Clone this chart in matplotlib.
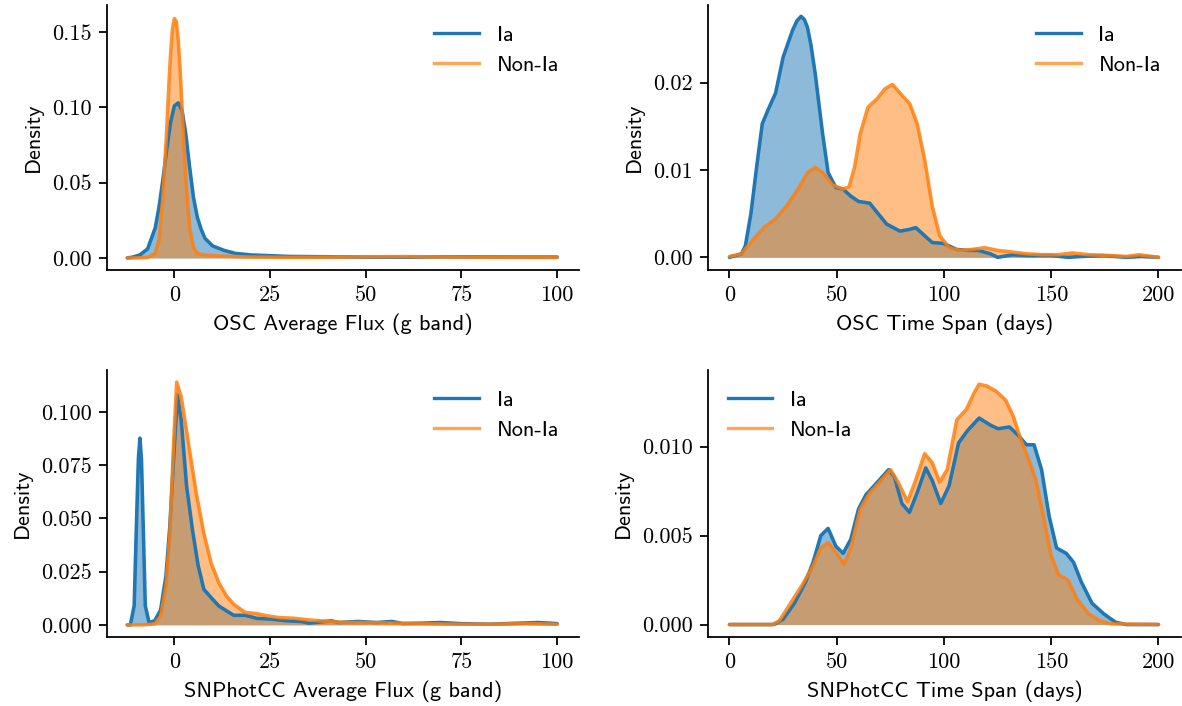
import matplotlib

matplotlib.use("Agg")
import matplotlib.pyplot as plt
from matplotlib.lines import Line2D

plt.rcParams["font.family"] = "cmss10"
plt.rcParams["axes.formatter.use_mathtext"] = True
plt.rcParams["font.size"] = 10

BLUE = "#1f77b4"
ORANGE = "#ff7f0e"
LABELS = ["Ia", "Non-Ia"]

# OSC average flux (g band)
osc_flux_x_ia = [-12.3, -11, -9, -7, -5, -4, -3, -2, -1, 0, 1, 2, 3, 4, 5, 6, 7, 8,
                 10, 13, 16, 20, 25, 30, 40, 50, 60, 70, 80, 90, 100]
osc_flux_ia = [0, 0.0005, 0.002, 0.006, 0.02, 0.034, 0.052, 0.072, 0.09, 0.101,
               0.103, 0.098, 0.082, 0.06, 0.04, 0.027, 0.019, 0.013, 0.008, 0.005,
               0.003, 0.002, 0.0015, 0.001, 0.0008, 0.0006, 0.0005, 0.0008, 0.0007,
               0.0006, 0.0006]
osc_flux_x_non = [-12.3, -10, -7, -5, -4, -3, -2.5, -2, -1.5, -1, -0.5, 0, 0.5, 1,
                  1.5, 2, 2.5, 3, 4, 5, 6, 8, 10, 15, 20, 30, 40, 50, 60, 70, 80,
                  90, 100]
osc_flux_non = [0, 0, 0.0003, 0.003, 0.012, 0.04, 0.062, 0.085, 0.112, 0.135,
                0.152, 0.159, 0.157, 0.145, 0.125, 0.1, 0.075, 0.052, 0.02, 0.007,
                0.003, 0.002, 0.0015, 0.001, 0.0006, 0.0004, 0.0005, 0.0008,
                0.0009, 0.0007, 0.0005, 0.0004, 0.0003]

# OSC time span (days)
osc_span_x_ia = [0, 5.6, 7.4, 10, 12.7, 15.3, 18, 21.5, 25, 29.4, 31.5, 33.4, 35,
                 36.4, 38, 40, 43.4, 46, 49.6, 53, 56.6, 60.2, 65.4, 69, 73.3, 79.5,
                 83.9, 86.9, 90, 94.5, 99.7, 106, 111, 116, 121.7, 125, 132, 139,
                 150, 158, 164, 174, 185, 192, 200]
osc_span_ia = [0, 0.0004, 0.0013, 0.005, 0.0104, 0.0153, 0.0169, 0.0188, 0.0229,
               0.026, 0.0271, 0.0276, 0.0272, 0.0263, 0.0243, 0.021, 0.0142,
               0.0097, 0.008, 0.0078, 0.007, 0.0064, 0.0062, 0.0051, 0.0038,
               0.003, 0.0032, 0.0034, 0.0027, 0.0017, 0.0016, 0.0009, 0.0008,
               0.0008, 0.0004, 0.0, 0.0003, 0.0002, 0.0002, 0.0, 0.0001, 0.0002,
               0.0, 0.0001, 0]
osc_span_x_non = [0, 5.6, 11, 16, 21.5, 26.7, 32, 36.4, 40, 43.4, 48, 53, 55.8,
                  58.4, 61, 64.6, 69, 72.5, 76, 79.5, 84, 87.5, 91, 94.5, 98, 102.4,
                  107.6, 113, 119, 125, 132, 139, 146, 153, 160, 167.5, 178, 185,
                  191, 200]
osc_span_non = [0.0001, 0.0004, 0.002, 0.0034, 0.0044, 0.0059, 0.0078, 0.0097,
                0.0103, 0.0097, 0.0083, 0.0078, 0.0081, 0.0104, 0.0142, 0.0172,
                0.0182, 0.0193, 0.0198, 0.0188, 0.0176, 0.0153, 0.0112, 0.0059,
                0.0025, 0.0011, 0.0008, 0.0009, 0.0011, 0.0008, 0.0006, 0.0004,
                0.0003, 0.0003, 0.0005, 0.0003, 0.0002, 0.0001, 0.0003, 0]

# SNPhotCC average flux (g band)
snp_flux_x_ia = [-12.3, -11.5, -10.5, -9.8, -9.4, -9.0, -8.6, -8.25, -7.6, -6.6,
                 -5.1, -3.6, -2.2, -1.2, -0.2, 0.8, 1.8, 3.2, 4.7, 6.2, 7.7, 9.6,
                 11.6, 13.6, 15.5, 18.5, 21.4, 25.3, 29.3, 33.2, 35.2, 41, 43, 48,
                 52.8, 56.8, 59.7, 64.6, 69.5, 74.5, 82, 87, 95, 100]
snp_flux_ia = [0, 0, 0.009, 0.054, 0.078, 0.0877, 0.078, 0.054, 0.009, 0.001,
               0.002, 0.007, 0.023, 0.046, 0.078, 0.108, 0.096, 0.065, 0.045,
               0.028, 0.0167, 0.0128, 0.0089, 0.0066, 0.0045, 0.0045, 0.0031,
               0.0027, 0.0019, 0.0016, 0.0008, 0.0019, 0.0011, 0.0016, 0.0011,
               0.0016, 0.0006, 0.0008, 0.0011, 0.0006, 0.0003, 0.0006, 0.0011,
               0.0006]
snp_flux_x_non = [-12.3, -8, -5.1, -3.6, -2.2, -1.2, -0.2, 0.6, 1.8, 3.7, 5.7, 7.7,
                  9.6, 11.6, 13.6, 15.5, 18.5, 21.4, 24.4, 27.3, 31.2, 35.2, 40, 45,
                  50.9, 56.8, 62.7, 72.5, 82, 92, 100]
snp_flux_non = [0, 0, 0.0005, 0.004, 0.018, 0.042, 0.085, 0.114, 0.107, 0.085,
                0.062, 0.043, 0.029, 0.0198, 0.0136, 0.0097, 0.0058, 0.0053,
                0.0042, 0.0034, 0.0031, 0.0023, 0.0016, 0.0011, 0.0011, 0.0008,
                0.0006, 0.0003, 0.0003, 0.0006, 0.0003]

# SNPhotCC time span (days)
snp_span_x_ia = [0, 20, 21.5, 25, 30.3, 35.5, 39, 42.6, 46, 49.6, 53, 56.6, 60.2,
                 63.7, 69, 74.2, 76.9, 80.4, 83.9, 87.5, 91.5, 94.5, 98.5, 102.4,
                 106.8, 111, 116.4, 121.7, 125.2, 130.5, 134.9, 138.4, 142, 145.5,
                 149, 152.5, 157, 160.4, 164, 169, 174.5, 180, 185, 200]
snp_span_ia = [0, 0, 0.00004, 0.0003, 0.0012, 0.0024, 0.0035, 0.005, 0.0054,
               0.0044, 0.004, 0.0048, 0.0065, 0.0073, 0.008, 0.0087, 0.0083,
               0.0068, 0.0063, 0.0074, 0.0088, 0.0081, 0.0068, 0.0078, 0.0102,
               0.0109, 0.0116, 0.0112, 0.011, 0.0111, 0.0106, 0.0101, 0.0101,
               0.0087, 0.0061, 0.0043, 0.004, 0.0035, 0.0024, 0.0012, 0.0006,
               0.00013, 0, 0]
snp_span_x_non = [0, 20, 23.2, 28.5, 33.8, 39, 42.6, 46, 50.5, 53.5, 56.6, 61,
                  65.4, 70.7, 75.1, 78.6, 83, 86.5, 91, 94.5, 98, 101.5, 106,
                  110.5, 114, 116.4, 120, 124.4, 128.8, 132.3, 135.8, 139.4, 142.9,
                  146.4, 149.9, 153.4, 157.8, 162.2, 167.5, 172.7, 178, 200]
snp_span_non = [0, 0, 0.0002, 0.0012, 0.0022, 0.0033, 0.0043, 0.0046, 0.0039,
                0.0034, 0.0043, 0.0065, 0.0074, 0.0081, 0.0087, 0.008, 0.0069,
                0.008, 0.0096, 0.0091, 0.008, 0.0087, 0.0115, 0.0121, 0.013,
                0.0135, 0.0134, 0.0131, 0.0126, 0.0117, 0.0104, 0.0093, 0.0081,
                0.0061, 0.0039, 0.0028, 0.0025, 0.0014, 0.0006, 0.0002, 0.00004, 0]


def kde_panel(ax, x_ia, y_ia, x_non, y_non, xlabel, xticks, yticks, ylabels,
              xlim, ylim, legend_loc):
    for x, y, color, line_alpha in ((x_ia, y_ia, BLUE, 1.0),
                                    (x_non, y_non, ORANGE, 0.85)):
        ax.fill_between(x, y, 0, color=color, alpha=0.5, linewidth=0)
        ax.plot(x, y, color=color, alpha=line_alpha, linewidth=1.6,
                solid_joinstyle="round", solid_capstyle="round")
    ax.set_xlim(*xlim)
    ax.set_ylim(*ylim)
    ax.set_xticks(xticks, [str(t) for t in xticks], fontfamily="cmr10")
    ax.set_yticks(yticks, ylabels, fontfamily="cmr10")
    ax.set_xlabel(xlabel)
    ax.set_ylabel("Density")
    ax.spines["top"].set_visible(False)
    ax.spines["right"].set_visible(False)
    handles = [Line2D([], [], color=BLUE, linewidth=1.5),
               Line2D([], [], color=ORANGE, alpha=0.7, linewidth=1.5)]
    ax.legend(handles, LABELS, loc=legend_loc, frameon=False)


fig = plt.figure(figsize=(1182 / 160, 706 / 160), dpi=160)
W, H = 1182, 706


def rect(left, right, top, bottom):
    return [left / W, 1 - bottom / H, (right - left) / W, (bottom - top) / H]


ax1 = fig.add_axes(rect(107, 579, 5, 270))
ax2 = fig.add_axes(rect(708, 1181, 5, 270))
ax3 = fig.add_axes(rect(107, 579, 370, 637))
ax4 = fig.add_axes(rect(708, 1181, 370, 637))

kde_panel(ax1, osc_flux_x_ia, osc_flux_ia, osc_flux_x_non, osc_flux_non,
          "OSC Average Flux (g band)", [0, 25, 50, 75, 100],
          [0, 0.05, 0.10, 0.15], ["0.00", "0.05", "0.10", "0.15"],
          (-17.6, 105.7), (-0.008, 0.168), "upper right")
kde_panel(ax2, osc_span_x_ia, osc_span_ia, osc_span_x_non, osc_span_non,
          "OSC Time Span (days)", [0, 50, 100, 150, 200],
          [0, 0.01, 0.02], ["0.00", "0.01", "0.02"],
          (-10, 210.5), (-0.00145, 0.0289), "upper right")
kde_panel(ax3, snp_flux_x_ia, snp_flux_ia, snp_flux_x_non, snp_flux_non,
          "SNPhotCC Average Flux (g band)", [0, 25, 50, 75, 100],
          [0, 0.025, 0.05, 0.075, 0.1],
          ["0.000", "0.025", "0.050", "0.075", "0.100"],
          (-17.6, 105.7), (-0.0057, 0.1197), "upper right")
kde_panel(ax4, snp_span_x_ia, snp_span_ia, snp_span_x_non, snp_span_non,
          "SNPhotCC Time Span (days)", [0, 50, 100, 150, 200],
          [0, 0.005, 0.01], ["0.000", "0.005", "0.010"],
          (-10, 210.5), (-0.0007, 0.0143), "upper left")

fig.savefig("out.png", dpi=160, facecolor="white")
